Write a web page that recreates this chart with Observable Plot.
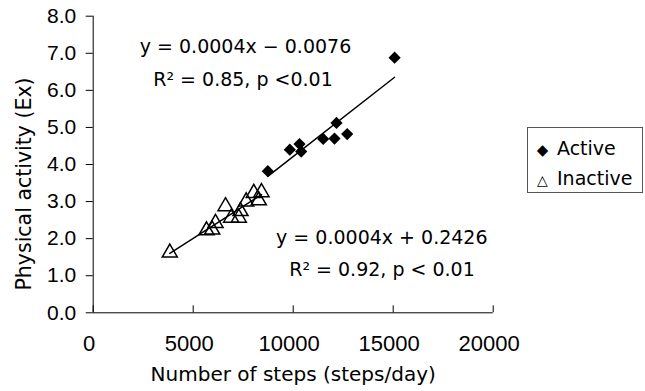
<!DOCTYPE html>
<html><head><meta charset="utf-8">
<script src="https://cdn.jsdelivr.net/npm/d3@7"></script>
<script src="https://cdn.jsdelivr.net/npm/@observablehq/plot@0.6"></script>
<style>
body{margin:0;background:#fff;}
#wrap{position:relative;width:645px;height:391px;overflow:hidden;}
#legend{position:absolute;left:527px;top:127px;width:116px;height:66px;border:1px solid #555;box-sizing:border-box;font-family:"DejaVu Sans",sans-serif;font-size:19px;color:#000;}
#legend .row{position:absolute;left:0;height:24px;line-height:24px;white-space:nowrap;}
#legend .sym{display:inline-block;width:29px;text-align:center;font-family:"DejaVu Sans",sans-serif;}
</style>
</head><body>
<div id="wrap"><div id="legend"></div></div>
<script>
// Data
const activeSteps = [8730, 9830, 10315, 10400, 11500, 12065, 12165, 12700, 15070];
const activeEx    = [3.82, 4.40, 4.55, 4.35, 4.69, 4.70, 5.12, 4.82, 6.88];
const inactiveSteps = [3830, 5665, 5950, 6115, 6615, 6900, 7280, 7365, 7650, 8030, 8280, 8415];
const inactiveEx    = [1.62, 2.22, 2.24, 2.42, 2.87, 2.56, 2.56, 2.74, 3.00, 3.23, 3.03, 3.25];
const xTicks = [0, 5000, 10000, 15000, 20000];
const yTicks = [0, 1, 2, 3, 4, 5, 6, 7, 8];
const seriesNames = ["Active", "Inactive"];
const eqActive = ["y = 0.0004x − 0.0076", "R² = 0.85, p <0.01"];
const eqInactive = ["y = 0.0004x + 0.2426", "R² = 0.92, p < 0.01"];
const xLabel = "Number of steps (steps/day)";
const yLabel = "Physical activity (Ex)";

const active = activeSteps.map((s, i) => ({steps: s, ex: activeEx[i]}));
const inactive = inactiveSteps.map((s, i) => ({steps: s, ex: inactiveEx[i]}));

const sans = "Liberation Sans, Arial, sans-serif";
const wide = "DejaVu Sans, sans-serif";
const W = 645, H = 391, mT = 15.7, mB = 78.7;
const frameH = H - mT - mB;
const chart = Plot.plot({
  width: W, height: H,
  marginLeft: 92.7, marginRight: 152.3, marginTop: mT, marginBottom: mB,
  x: {domain: [0, 20000]},
  y: {domain: [0, 8]},
  style: {background: "white", fontFamily: sans, color: "black"},
  marks: [
    Plot.axisY({ticks: yTicks, tickSize: 7, tickPadding: 10, tickFormat: d3.format(".1f"), fontSize: 21, label: null}),
    // x tick labels (ticks themselves are drawn inward below)
    Plot.axisX({ticks: xTicks, tickSize: 0, tickPadding: 23, tickFormat: d3.format("d"), fontSize: 22, dx: -4, label: null}),
    Plot.ruleX(xTicks, {x: d => d, insetTop: frameH - 7, stroke: "black"}),
    Plot.ruleX([0], {stroke: "black"}),
    Plot.ruleY([0], {stroke: "black"}),
    Plot.linearRegressionY(active, {x: "steps", y: "ex", stroke: "black", strokeWidth: 1.5, ci: 0}),
    Plot.linearRegressionY(inactive, {x: "steps", y: "ex", stroke: "black", strokeWidth: 1.5, ci: 0}),
    Plot.dot(active, {x: "steps", y: "ex", symbol: "diamond2", r: 5.5, fill: "black"}),
    Plot.dot(inactive, {x: "steps", y: "ex", symbol: "triangle", r: 5.6, stroke: "black", strokeWidth: 1.5, fill: "none"}),
    Plot.text([eqActive[0]], {x: 7615, y: 7.16, fontSize: 19, fontFamily: wide, fill: "black"}),
    Plot.text([eqActive[1]], {x: 7490, y: 6.29, fontSize: 19, fontFamily: wide, fill: "black"}),
    Plot.text([eqInactive[0]], {x: 14430, y: 2.02, fontSize: 19, fontFamily: wide, fill: "black"}),
    Plot.text([eqInactive[1]], {x: 14440, y: 1.17, fontSize: 19, fontFamily: wide, fill: "black"}),
    Plot.text([xLabel], {frameAnchor: "bottom", textAnchor: "middle", dy: 67.7, fontSize: 20, fontFamily: wide, fill: "black"}),
    Plot.text([yLabel], {frameAnchor: "left", textAnchor: "middle", rotate: -90, dx: -68.7, dy: 19.5, fontSize: 20.5, fontFamily: wide, fill: "black"})
  ]
});
document.getElementById("wrap").prepend(chart);
chart.style.position = "absolute"; chart.style.left = "0"; chart.style.top = "0";

const legend = document.getElementById("legend");
const syms = ["◆", "△"];
seriesNames.forEach((n, i) => {
  const row = document.createElement("div");
  row.className = "row";
  row.style.top = (8 + i * 30) + "px";
  row.innerHTML = `<span class="sym" style="font-size:${i === 0 ? 15 : 14}px">${syms[i]}</span>${n}`;
  legend.appendChild(row);
});
</script>
</body></html>
